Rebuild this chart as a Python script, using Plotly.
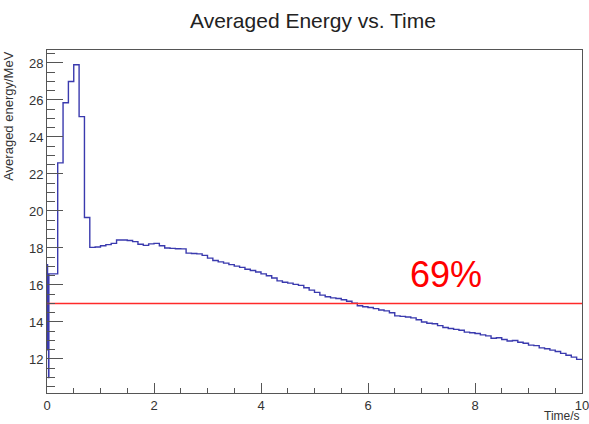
import numpy as np
import plotly.graph_objects as go

# ---- data ----
# fine bins at the very start (s)
early_edges = [0.0, 0.005, 0.01, 0.015, 0.02, 0.025, 0.03, 0.035]
early_values = [14.0, 17.1, 12.5, 15.5, 13.2, 14.8, 11.0]
# bin from 0.035 to 0.2
second_value = [16.6]
# regular 0.1 s bins from 0.2 to 10.0 s, averaged energy in MeV
regular_values = [
    22.6, 25.85, 27.0, 27.9, 25.1, 19.65, 18.03, 18.05,           # 0.2 - 1.0
    18.12, 18.18, 18.25, 18.43, 18.43, 18.40, 18.34, 18.2, 18.14, 18.22,  # 1.0 - 2.0
    18.25, 18.12, 18.0, 17.98, 17.96, 17.95, 17.72, 17.7, 17.68, 17.6,    # 2.0 - 3.0
    17.45, 17.32, 17.25, 17.18, 17.1, 17.02, 16.95, 16.85, 16.78, 16.7,   # 3.0 - 4.0
    16.6, 16.5, 16.38, 16.22, 16.15, 16.1, 16.03, 15.98, 15.85, 15.72,    # 4.0 - 5.0
    15.6, 15.45, 15.36, 15.3, 15.27, 15.2, 15.12, 15.02, 14.88, 14.82,    # 5.0 - 6.0
    14.78, 14.72, 14.65, 14.6, 14.5, 14.33, 14.3, 14.27, 14.22, 14.12,    # 6.0 - 7.0
    14.0, 13.93, 13.9, 13.8, 13.7, 13.65, 13.6, 13.55, 13.45, 13.42,      # 7.0 - 8.0
    13.38, 13.3, 13.25, 13.12, 13.15, 13.05, 12.97, 13.0, 12.9, 12.85,    # 8.0 - 9.0
    12.75, 12.72, 12.6, 12.55, 12.48, 12.4, 12.3, 12.2, 12.1, 11.98,      # 9.0 - 10.0
]
threshold_energy = 15.0
threshold_label = "69%"
x_ticks = [0, 2, 4, 6, 8, 10]
y_ticks = [12, 14, 16, 18, 20, 22, 24, 26, 28]

# build histogram edges/values
regular_edges = list(np.round(np.arange(0.2, 10.0001, 0.1), 4))
edges = early_edges + regular_edges
values = early_values + second_value + regular_values
assert len(edges) == len(values) + 1

FONT = "Liberation Sans, Arial, Helvetica, sans-serif"

fig = go.Figure()
fig.add_trace(go.Scatter(
    x=edges, y=values + [values[-1]],
    mode="lines", line=dict(color="#3a3aae", width=1.4, shape="hv"),
    showlegend=False, hoverinfo="skip",
))
fig.add_trace(go.Scatter(
    x=[0, 10], y=[threshold_energy, threshold_energy],
    mode="lines", line=dict(color="#ff2a2a", width=1.4),
    showlegend=False, hoverinfo="skip",
))

fig.add_annotation(x=7.46, y=16.54, xref="x", yref="y", text=threshold_label,
                   showarrow=False, font=dict(family=FONT, size=36, color="#ff0000"),
                   xanchor="center", yanchor="middle")

# axis titles (ROOT style: at the end of axes)
fig.add_annotation(x=1, y=-0.068, xref="paper", yref="paper", text="Time/s",
                   showarrow=False, font=dict(family=FONT, size=12, color="#333"),
                   xanchor="right", yanchor="middle")
fig.add_annotation(x=-0.0723, y=1, xref="paper", yref="paper", text="Averaged energy/MeV",
                   textangle=-90, showarrow=False,
                   font=dict(family=FONT, size=13, color="#333"),
                   xanchor="center", yanchor="top")

fig.update_layout(
    width=589, height=424,
    margin=dict(l=47, r=7, t=50, b=31, autoexpand=False),
    paper_bgcolor="white", plot_bgcolor="white",
    title=dict(text="Averaged Energy vs. Time", x=313/589, xanchor="center",
               y=1 - 21/424, yanchor="middle",
               font=dict(family=FONT, size=21, color="#222")),
    font=dict(family=FONT, size=13, color="#333"),
)
fig.update_xaxes(
    range=[0, 10], tickvals=x_ticks, ticktext=[str(v) for v in x_ticks],
    ticks="inside", ticklen=10, tickwidth=1, tickcolor="#555",
    minor=dict(ticks="inside", ticklen=5, dtick=0.5, tickcolor="#555", showgrid=False),
    showline=True, linecolor="#555", linewidth=1, mirror=True,
    showgrid=False, zeroline=False, ticklabeloverflow="allow", automargin=False,
    tickfont=dict(family=FONT, size=13, color="#333"),
)
fig.update_yaxes(
    range=[10.16, 28.70], tickvals=y_ticks, ticktext=[str(v) for v in y_ticks],
    ticks="inside", ticklen=16, tickwidth=1, tickcolor="#555",
    minor=dict(ticks="inside", ticklen=8, dtick=0.5, tickcolor="#555", showgrid=False),
    showline=True, linecolor="#555", linewidth=1, mirror=True,
    showgrid=False, zeroline=False, automargin=False,
    tickfont=dict(family=FONT, size=13, color="#333"),
)

fig.write_html("out.html")
